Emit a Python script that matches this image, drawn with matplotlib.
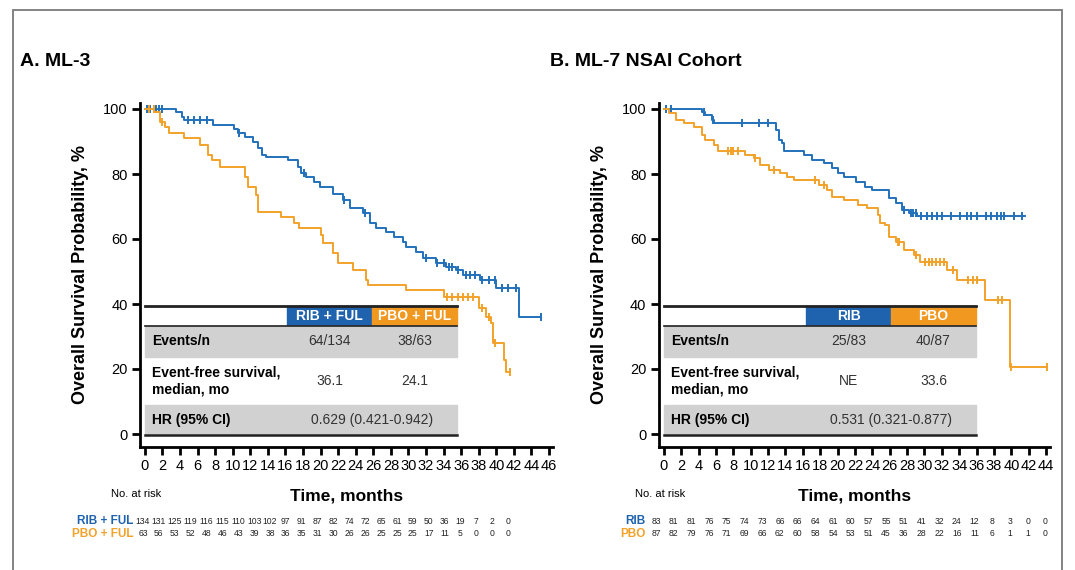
import matplotlib
matplotlib.use('Agg')
import matplotlib.pyplot as plt
from matplotlib import font_manager
from matplotlib.patches import Rectangle
import numpy as np

W, H = 1075, 570

# ---- panel A: ML-3 ----
a_rib_t = [0, 3.6, 4.2, 4.5, 7.8, 10.2, 10.6, 11.4, 12.3, 12.9, 13.3, 13.8, 16.3, 17.4, 17.8, 18.3,
           19.2, 19.9, 21.4, 22.5, 23.3, 24.8, 25.6, 26.3, 27.5, 28.4, 29.4, 29.7, 30.9, 31.6, 33.1,
           34.3, 35.4, 36.2, 38.1, 40.0, 42.6, 45.1]
a_rib_s = [100, 99.0, 97.6, 96.6, 95.0, 94.0, 92.5, 91.5, 90.0, 87.9, 86.0, 85.3, 84.3, 82.3, 80.2, 79.2,
           77.6, 76.1, 74.0, 72.0, 69.4, 67.9, 64.8, 63.3, 62.2, 60.7, 59.2, 57.6, 56.1, 54.1, 52.5,
           51.5, 50.5, 48.9, 47.4, 44.8, 36.1, 36.1]
a_rib_cens = [0.2, 0.6, 1.3, 1.6, 2.0, 4.9, 5.6, 6.3, 7.1, 10.7, 18.1, 22.7, 25.0, 32.0, 33.3, 34.0, 34.6,
              35.0, 35.6, 36.5, 37.0, 37.6, 38.4, 39.2, 39.8, 40.6, 41.3, 42.2, 45.1]
a_pbo_t = [0, 1.1, 1.7, 2.3, 2.8, 4.5, 6.25, 7.2, 7.7, 8.5, 11.4, 11.7, 12.7, 12.9, 15.5, 17.0, 17.6,
           20.1, 20.3, 21.4, 22.0, 23.7, 25.2, 25.4, 29.7, 34.1, 38.0, 38.8, 39.4, 39.6, 40.9, 41.1, 41.5]
a_pbo_s = [100, 99.2, 96.1, 94.6, 92.7, 91.0, 88.9, 85.8, 84.3, 82.2, 79.2, 76.1, 73.5, 68.4, 66.9, 64.8,
           63.3, 61.2, 58.7, 55.6, 52.5, 50.5, 47.4, 45.8, 44.3, 42.2, 38.8, 36.1, 34.1, 27.9, 22.8,
           19.2, 19.2]
a_pbo_cens = [0.5, 1.0, 2.0, 34.4, 35.0, 35.6, 36.2, 36.8, 37.4, 38.4, 39.2, 39.8, 41.5]

# ---- panel B: ML-7 NSAI cohort ----
b_rib_t = [0, 4.4, 4.8, 5.6, 5.8, 12.9, 13.3, 13.6, 13.8, 16.1, 17.1, 18.4, 19.4, 20.0, 20.7, 22.1,
           23.2, 24.0, 25.9, 26.7, 27.4, 28.2, 29.2, 41.6]
b_rib_s = [100, 99.2, 98.2, 96.6, 95.6, 93.5, 90.5, 89.4, 87.1, 85.8, 84.3, 83.3, 81.8, 80.2, 79.0, 77.6,
           76.1, 75.1, 72.5, 71.0, 68.9, 67.9, 67.1, 67.1]
b_rib_cens = [0.2, 0.8, 4.6, 5.7, 9.0, 11.0, 12.0, 27.6, 28.4, 28.7, 29.0, 29.6, 30.3, 30.9, 31.4, 32.0,
              33.1, 34.1, 34.9, 35.4, 36.0, 37.1, 37.7, 38.4, 38.8, 39.2, 40.3, 41.2]
b_pbo_t = [0, 0.6, 1.4, 2.3, 3.5, 4.4, 4.8, 5.8, 6.2, 9.4, 10.4, 11.1, 12.1, 13.4, 14.2, 15.0, 17.9,
           18.8, 19.4, 20.7, 22.3, 23.4, 24.6, 24.9, 25.5, 25.9, 26.7, 27.6, 28.8, 29.5, 32.6, 33.8,
           37.0, 39.9, 44.1]
b_pbo_s = [100, 98.7, 96.6, 95.6, 94.6, 92.0, 90.5, 88.9, 87.1, 85.8, 84.8, 82.8, 81.2, 80.2, 79.2, 78.2,
           76.6, 75.1, 73.0, 72.0, 70.5, 69.4, 67.4, 64.8, 64.3, 60.7, 59.2, 56.6, 55.1, 53.0, 50.5,
           47.4, 41.2, 20.7, 20.7]
b_pbo_cens = [7.4, 7.7, 8.0, 8.5, 10.5, 12.7, 17.4, 18.4, 26.9, 27.1, 29.0, 30.1, 30.5, 30.9, 31.3,
              31.8, 32.2, 33.3, 35.0, 35.6, 36.0, 38.5, 38.9, 40.0, 44.1]

a_risk_rib = [134, 131, 125, 119, 116, 115, 110, 103, 102, 97, 91, 87, 82, 74, 72, 65, 61, 59, 50, 36,
              19, 7, 2, 0]
a_risk_pbo = [63, 56, 53, 52, 48, 46, 43, 39, 38, 36, 35, 31, 30, 26, 26, 25, 25, 25, 17, 11, 5, 0, 0, 0]
b_risk_rib = [83, 81, 81, 76, 75, 74, 73, 66, 66, 64, 61, 60, 57, 55, 51, 41, 32, 24, 12, 8, 3, 0, 0]
b_risk_pbo = [87, 82, 79, 76, 71, 69, 66, 62, 60, 58, 54, 53, 51, 45, 36, 28, 22, 16, 11, 6, 1, 1, 0]

a_table = {'head': ['RIB + FUL', 'PBO + FUL'], 'events': ['64/134', '38/63'],
           'median': ['36.1', '24.1'], 'hr': '0.629 (0.421-0.942)'}
b_table = {'head': ['RIB', 'PBO'], 'events': ['25/83', '40/87'],
           'median': ['NE', '33.6'], 'hr': '0.531 (0.321-0.877)'}

BLUE = '#2271bb'
ORANGE = '#f2a22a'
HEAD_BLUE = '#1f62ad'
HEAD_ORANGE = '#f0981f'
GRAY = '#d1d1d1'

installed = {f.name for f in font_manager.fontManager.ttflist}
MAIN = ['Liberation Sans', 'DejaVu Sans']
has_narrow = 'Liberation Sans Narrow' in installed
NARROW = ['Liberation Sans Narrow', 'Liberation Sans'] if has_narrow else MAIN
RISK_FS = 7.2 if has_narrow else 6.2
plt.rcParams['font.family'] = MAIN

fig = plt.figure(figsize=(W / 100, H / 100), dpi=100)


def fx(x):
    return x / W


def fy(y):
    return 1 - y / H


def step_value(ts, ss, t):
    i = np.searchsorted(ts, t, side='right') - 1
    return ss[max(i, 0)]


def km(ax, ts, ss, cens, color):
    ax.step(ts, ss, where='post', color=color, lw=1.4, zorder=3)
    cy = [step_value(ts, ss, c) for c in cens]
    ax.plot(cens, cy, ls='none', marker='|', ms=6, mew=1.4, color=color, zorder=3)


def panel(left, right, xmax, title, title_x, rib, pbo, table, risk, labels, risk_x0, risk_dx, lab_x):
    # axes rect from pixel extents
    x0_px, top_px, bot_px = left, 102.5, 447
    ax = fig.add_axes([fx(x0_px), fy(bot_px), fx(right - x0_px), (bot_px - top_px) / H])
    ax.set_xlim(-0.55, xmax + 0.45)
    ax.set_ylim(-4, 102)
    km(ax, *rib, BLUE)
    km(ax, *pbo, ORANGE)
    for s in ['top', 'right']:
        ax.spines[s].set_visible(False)
    for s in ['left', 'bottom']:
        ax.spines[s].set_linewidth(2)
    ax.set_xticks(np.arange(0, xmax + 1, 2))
    ax.set_yticks(np.arange(0, 101, 20))
    ax.tick_params(length=6, width=2, labelsize=10.5, pad=3)
    ax.set_ylabel('Overall Survival Probability, %', fontsize=13, fontweight='bold', labelpad=10)
    ax.set_xlabel('Time, months', fontsize=12.5, fontweight='bold', labelpad=11)

    fig.text(fx(title_x), fy(62), title, fontsize=14, fontweight='bold', family=NARROW, va='center')

    # summary table (pixel layout)
    L = x0_px + 5
    cb, co, R = L + 142, L + 227, L + 312
    rows = [306, 325.5, 356.5, 405, 434.5]
    fig.patches.append(Rectangle((fx(cb), fy(rows[1])), fx(co - cb), (rows[1] - rows[0]) / H,
                                 transform=fig.transFigure, color=HEAD_BLUE, zorder=4))
    fig.patches.append(Rectangle((fx(co), fy(rows[1])), fx(R - co), (rows[1] - rows[0]) / H,
                                 transform=fig.transFigure, color=HEAD_ORANGE, zorder=4))
    for r0, r1 in [(rows[1], rows[2]), (rows[3], rows[4])]:
        fig.patches.append(Rectangle((fx(L), fy(r1)), fx(R - L), (r1 - r0) / H,
                                     transform=fig.transFigure, color=GRAY, zorder=4))
    for y, lw in [(rows[0], 2), (rows[1], 1.2), (rows[4], 1.8)]:
        fig.add_artist(plt.Line2D([fx(L), fx(R)], [fy(y), fy(y)], color='#222222', lw=lw, zorder=5))
    mid1, mid2 = (cb + co) / 2, (co + R) / 2
    kw = dict(fontsize=10, ha='center', va='center', zorder=6)
    fig.text(fx(mid1), fy((rows[0] + rows[1]) / 2), table['head'][0], color='white', fontweight='bold', **kw)
    fig.text(fx(mid2), fy((rows[0] + rows[1]) / 2), table['head'][1], color='white', fontweight='bold', **kw)
    fig.text(fx(L + 7), fy((rows[1] + rows[2]) / 2), 'Events/n', fontsize=10, fontweight='bold',
             va='center', zorder=6)
    fig.text(fx(L + 7), fy((rows[2] + rows[3]) / 2), 'Event-free survival,\nmedian, mo', fontsize=10,
             fontweight='bold', va='center', linespacing=1.25, zorder=6)
    fig.text(fx(L + 7), fy((rows[3] + rows[4]) / 2), 'HR (95% CI)', fontsize=10, fontweight='bold',
             va='center', zorder=6)
    fig.text(fx(mid1), fy((rows[1] + rows[2]) / 2), table['events'][0], color='#333333', **kw)
    fig.text(fx(mid2), fy((rows[1] + rows[2]) / 2), table['events'][1], color='#333333', **kw)
    fig.text(fx(mid1), fy((rows[2] + rows[3]) / 2), table['median'][0], color='#333333', **kw)
    fig.text(fx(mid2), fy((rows[2] + rows[3]) / 2), table['median'][1], color='#333333', **kw)
    fig.text(fx(co), fy((rows[3] + rows[4]) / 2), table['hr'], color='#333333', **kw)

    # number at risk
    fig.text(fx(lab_x), fy(494), 'No. at risk', fontsize=8, family=NARROW, ha='center', va='center')
    for row, (vals, lab, col) in enumerate(zip(risk, labels, [HEAD_BLUE, ORANGE])):
        y = 521 + 13 * row
        fig.text(fx(risk_x0 - 10), fy(y), lab, color=col, fontsize=8.5, fontweight='bold',
                 family=NARROW, ha='right', va='center')
        for i, v in enumerate(vals):
            fig.text(fx(risk_x0 + i * risk_dx), fy(y), str(v), fontsize=RISK_FS, family=NARROW,
                     ha='center', va='center', color='#222222')
    return ax


panel(140, 553, 46, 'A. ML-3', 20, (a_rib_t, a_rib_s, a_rib_cens), (a_pbo_t, a_pbo_s, a_pbo_cens),
      a_table, [a_risk_rib, a_risk_pbo], ['RIB + FUL', 'PBO + FUL'], 143, 15.87, 136)
panel(659, 1050, 44, 'B. ML-7 NSAI Cohort', 550, (b_rib_t, b_rib_s, b_rib_cens),
      (b_pbo_t, b_pbo_s, b_pbo_cens), b_table, [b_risk_rib, b_risk_pbo], ['RIB', 'PBO'], 656, 17.7, 660)

# outer frame
fig.add_artist(Rectangle((fx(13), fy(600)), fx(1062 - 13), (600 - 10) / H, transform=fig.transFigure,
                         fill=False, edgecolor='#7a7a7a', lw=1.3))

fig.savefig('out.png', dpi=100)
